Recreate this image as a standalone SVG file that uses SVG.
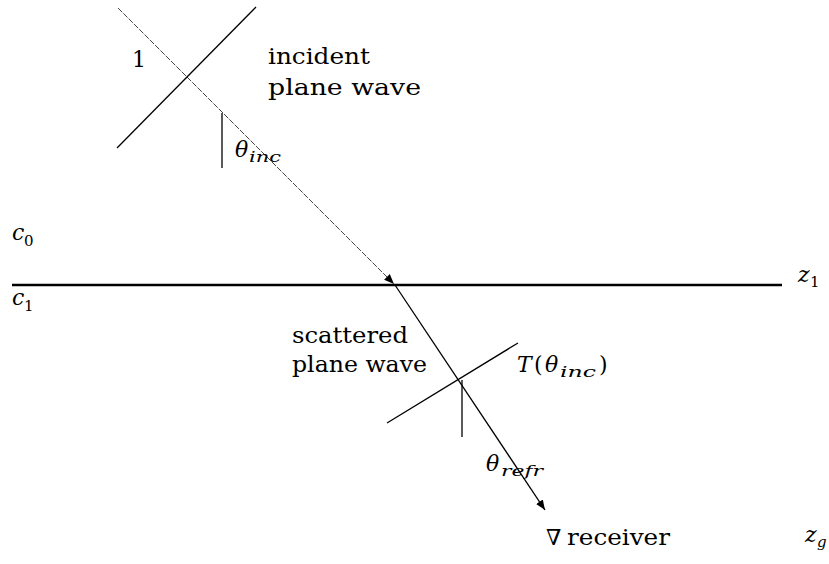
<svg xmlns="http://www.w3.org/2000/svg" width="829" height="564" viewBox="0 0 829 564">
<style>
text{font-family:'DejaVu Serif',serif;fill:#000}
.t{font-size:22px}
.m{font-style:italic;font-size:22px}
.s{font-style:italic;font-size:15px}
.n{font-size:15px}
.ln{stroke:#000;stroke-width:1.3;fill:none}
</style>
<defs>
<marker id="ah" viewBox="0 0 10 10" refX="10" refY="5" markerWidth="10" markerHeight="10" markerUnits="userSpaceOnUse" orient="auto">
<path d="M0,1 L10,5 L0,9 Z" fill="#000"/>
</marker>
</defs>
<rect width="829" height="564" fill="#fff"/>
<g id="connectors">
<line id="interface" x1="12" y1="285" x2="782" y2="285" stroke="#000" stroke-width="2.6"/>
<line id="ray-inc" x1="118" y1="8" x2="394" y2="284" stroke="#444" stroke-width="1" stroke-dasharray="6 1.5" marker-end="url(#ah)"/>
<line id="ray-refr" x1="395" y1="285" x2="545" y2="510" class="ln" marker-end="url(#ah)"/>
</g>
<g id="incident-wave">
<line x1="117" y1="148" x2="256" y2="7" class="ln"/>
<line x1="222" y1="113" x2="222" y2="168" class="ln"/>
<text x="132" y="67" class="t">1</text>
<text x="268" y="64" class="t" textLength="102" lengthAdjust="spacingAndGlyphs">incident</text>
<text x="268" y="95" class="t" textLength="153" lengthAdjust="spacingAndGlyphs">plane wave</text>
<text x="235" y="157" class="m">θ</text><text x="249" y="162" class="s" textLength="32" lengthAdjust="spacingAndGlyphs">inc</text>
</g>
<g id="media">
<text x="12" y="240" class="m">c</text><text x="24" y="246" class="n">0</text>
<text x="12" y="305" class="m">c</text><text x="24" y="311" class="n">1</text>
<text x="798" y="282" class="m">z</text><text x="810" y="287" class="n">1</text>
</g>
<g id="scattered-wave">
<line x1="387" y1="423" x2="518" y2="343" class="ln"/>
<line x1="462" y1="380" x2="462" y2="437" class="ln"/>
<text x="292" y="343" class="t" textLength="116" lengthAdjust="spacingAndGlyphs">scattered</text>
<text x="292" y="372" class="t" textLength="135" lengthAdjust="spacingAndGlyphs">plane wave</text>
<text x="517" y="372" class="m">T</text><text x="534" y="372" class="t">(</text><text x="545" y="372" class="m">θ</text><text x="560" y="377" class="s" textLength="36" lengthAdjust="spacingAndGlyphs">inc</text><text x="599" y="372" class="t">)</text>
<text x="486" y="471" class="m">θ</text><text x="501" y="476" class="s" textLength="42" lengthAdjust="spacingAndGlyphs">refr</text>
</g>
<g id="receiver">
<text x="546" y="545" class="t">∇</text>
<text x="567" y="545" class="t" textLength="103" lengthAdjust="spacingAndGlyphs">receiver</text>
<text x="805" y="542" class="m">z</text><text x="817" y="547" class="s">g</text>
</g>
</svg>
